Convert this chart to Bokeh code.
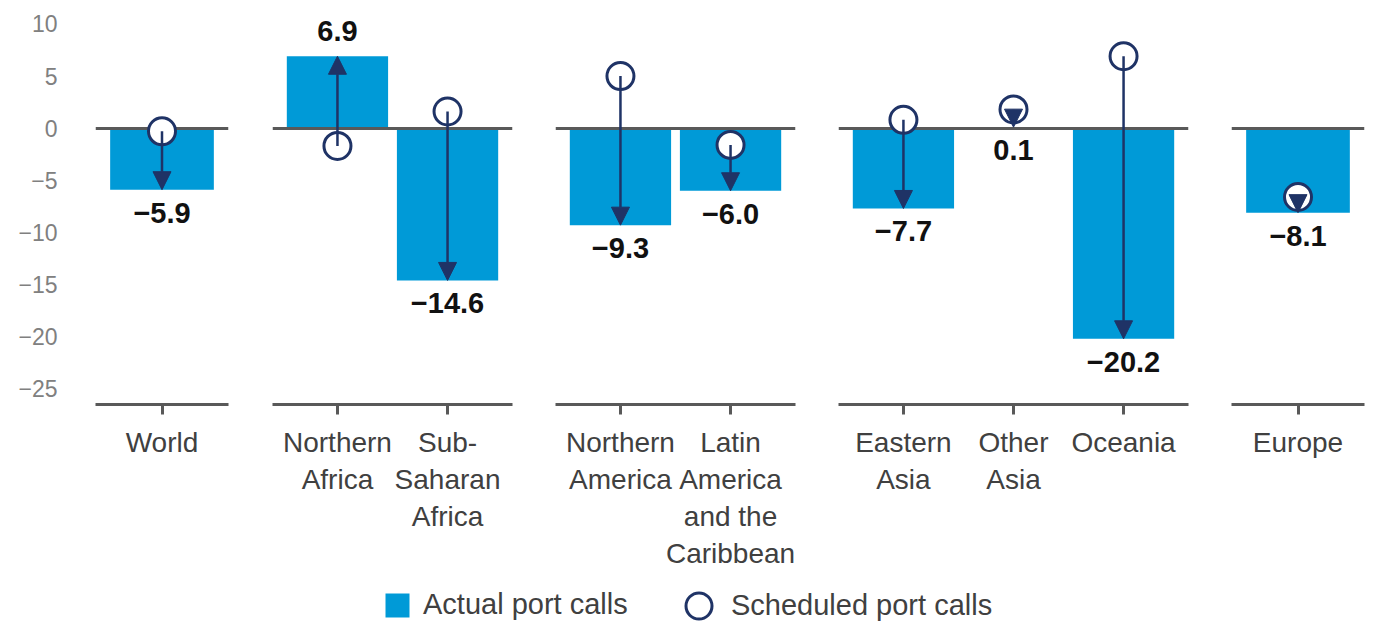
from bokeh.plotting import figure
from bokeh.models import (ColumnDataSource, FactorRange, Range1d, FixedTicker,
                          Arrow, NormalHead, Legend, LegendItem)
from bokeh.layouts import row, column
from bokeh.embed import file_html
from bokeh.resources import INLINE
from bokeh.core.properties import value

# ---------------- data ----------------
categories = ["World",
              "Northern\nAfrica", "Sub-\nSaharan\nAfrica",
              "Northern\nAmerica", "Latin\nAmerica\nand the\nCaribbean",
              "Eastern\nAsia", "Other\nAsia", "Oceania",
              "Europe"]
group_of = [0, 1, 1, 2, 2, 3, 3, 3, 4]
actual = [-5.9, 6.9, -14.6, -9.3, -6.0, -7.7, 0.1, -20.2, -8.1]
scheduled = [-0.3, -1.7, 1.6, 5.0, -1.6, 0.8, 1.8, 6.9, -6.6]
y_ticks = [-25, -20, -15, -10, -5, 0, 5, 10]
legend_labels = ["Actual port calls", "Scheduled port calls"]

# ---------------- style ----------------
BLUE = "#009AD7"
NAVY = "#1F3366"
AXIS_GRAY = "#595959"
FONT = "Liberation Sans"
frame_widths = [133, 240, 240, 350, 133]
left_borders = [95, 23, 22, 22, 22]
right_borders = [21, 21, 21, 21, 3]
TOP_B = 13
FRAME_H = 391
BOTTOM_B = 166

y_range = Range1d(-26.5, 11.0)

figs = []
for g in range(5):
    idx = [i for i, gg in enumerate(group_of) if gg == g]
    cats = [categories[i] for i in idx]
    act = [actual[i] for i in idx]
    sch = [scheduled[i] for i in idx]
    labels = [("%.1f" % v).replace("-", "\u2212") for v in act]
    dy = [23 if a < s else -25 for a, s in zip(act, sch)]
    src = ColumnDataSource(dict(cat=cats, actual=act, sched=sch, label=labels, dy=dy))

    p = figure(x_range=FactorRange(factors=cats, range_padding=0.09,
                                   range_padding_units="absolute"),
               y_range=y_range,
               frame_width=frame_widths[g], frame_height=FRAME_H,
               y_axis_location="left" if g == 0 else None,
               toolbar_location=None, output_backend="svg",
               min_border_left=left_borders[g], min_border_right=right_borders[g],
               min_border_top=TOP_B, min_border_bottom=BOTTOM_B)
    p.outline_line_color = None
    p.xgrid.visible = False
    p.ygrid.visible = False

    p.vbar(x="cat", top="actual", bottom=0, width=0.92, source=src,
           fill_color=BLUE, line_color=None)
    p.hspan(y=[0], line_color=AXIS_GRAY, line_width=3)
    p.scatter(x="cat", y="sched", source=src, marker="circle", size=27,
              fill_color="white", line_color=NAVY, line_width=3)
    p.add_layout(Arrow(end=NormalHead(size=18, fill_color=NAVY, line_color=NAVY, line_width=1),
                       x_start="cat", y_start="sched", x_end="cat", y_end="actual",
                       source=src, line_color=NAVY, line_width=2.5))
    p.text(x="cat", y="actual", text="label", source=src, y_offset="dy",
           text_align="center", text_baseline="middle",
           text_font=value(FONT), text_font_style="bold",
           text_font_size="29px", text_color="#111111")

    xa = p.xaxis[0]
    xa.axis_line_color = AXIS_GRAY
    xa.axis_line_width = 3
    xa.major_tick_line_color = AXIS_GRAY
    xa.major_tick_line_width = 3
    xa.major_tick_out = 10
    xa.major_tick_in = 0
    xa.minor_tick_line_color = None
    xa.major_label_standoff = 12
    xa.major_label_text_font = FONT
    xa.major_label_text_font_size = "28px"
    xa.major_label_text_color = "#404040"
    xa.major_label_orientation = "horizontal"

    if g == 0:
        ya = p.yaxis[0]
        ya.ticker = FixedTicker(ticks=y_ticks)
        ya.axis_line_color = None
        ya.major_tick_line_color = None
        ya.minor_tick_line_color = None
        ya.major_tick_out = 0
        ya.major_tick_in = 0
        ya.major_label_standoff = 38
        ya.major_label_text_font = FONT
        ya.major_label_text_font_size = "23px"
        ya.major_label_text_color = "#808080"
    figs.append(p)

total_w = sum(frame_widths) + sum(left_borders) + sum(right_borders)

lf = figure(frame_width=total_w, frame_height=50, x_range=Range1d(0, 1), y_range=Range1d(0, 1),
            toolbar_location=None, output_backend="svg", min_border=0)
lf.axis.visible = False
lf.grid.visible = False
lf.outline_line_color = None
# legend proxies, placed outside the visible range of this legend-only strip
r1 = lf.vbar(x=[-5], top=[-5], width=0.5, fill_color=BLUE, line_color=None)
r2 = lf.scatter(x=[-5], y=[-5], marker="circle", size=27, fill_color="white",
                line_color=NAVY, line_width=3)

leg1 = Legend(items=[LegendItem(label=legend_labels[0], renderers=[r1])],
              location=(382, 1), glyph_width=30, glyph_height=30, label_standoff=11,
              padding=0, margin=0, border_line_color=None, background_fill_alpha=0,
              label_text_font=FONT, label_text_font_size="29px", label_text_color="#404040")
leg2 = Legend(items=[LegendItem(label=legend_labels[1], renderers=[r2])],
              location=(666, -16), glyph_width=65, glyph_height=65, label_standoff=0,
              padding=0, margin=0, border_line_color=None, background_fill_alpha=0,
              label_text_font=FONT, label_text_font_size="29px", label_text_color="#404040")
lf.add_layout(leg1, "center")
lf.add_layout(leg2, "center")

layout = column(row(*figs), lf)
open("out.html", "w").write(file_html(layout, INLINE))
